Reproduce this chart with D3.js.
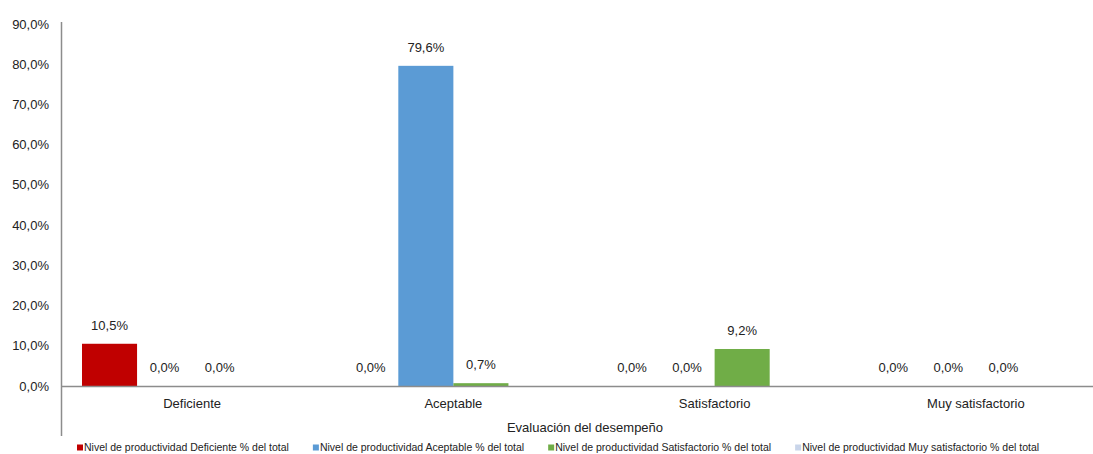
<!DOCTYPE html>
<html>
<head>
<meta charset="utf-8">
<script src="https://cdn.jsdelivr.net/npm/d3@7"></script>
<style>
  html, body { margin: 0; padding: 0; background: #fff; }
  svg { display: block; font-family: "Liberation Sans", Arial, sans-serif; }
</style>
</head>
<body>
<svg id="chart" width="1093" height="454"></svg>
<script>
const categories = ["Deficiente", "Aceptable", "Satisfactorio", "Muy satisfactorio"];
const seriesNames = [
  "Nivel de productividad Deficiente % del total",
  "Nivel de productividad Aceptable % del total",
  "Nivel de productividad Satisfactorio % del total",
  "Nivel de productividad Muy satisfactorio % del total"
];
const seriesColors = ["#C00000", "#5B9BD5", "#70AD47", "#C9D5EA"];
// values per series, one per category (null = no bar / no label)
const deficienteValues = [10.5, 0.0, 0.0, 0.0];
const aceptableValues = [0.0, 79.6, 0.0, 0.0];
const satisfactorioValues = [0.0, 0.7, 9.2, 0.0];
const muySatisfactorioValues = [null, null, null, null];
const yTicks = [0, 10, 20, 30, 40, 50, 60, 70, 80, 90];
const xAxisTitle = "Evaluación del desempeño";

const seriesValues = [deficienteValues, aceptableValues, satisfactorioValues, muySatisfactorioValues];

const svg = d3.select("#chart");
const locale = d3.formatLocale({ decimal: ",", thousands: ".", grouping: [3], currency: ["", "€"] });
const fmt = locale.format(".1f");

const y = d3.scaleLinear().domain([0, 90]).range([386, 24]);
const x0 = d3.scaleBand().domain(categories).range([61.5, 1106.5]).padding(0);
const bw = x0.bandwidth();
const x1 = d3.scaleBand().domain(d3.range(seriesNames.length)).range([20.5, bw - 20.5]).padding(0);

const axisColor = "#8c8c8c";

// Y tick labels
svg.append("g").selectAll("text").data(yTicks).join("text")
  .attr("x", 49).attr("y", d => y(d)).attr("dy", "0.35em")
  .attr("text-anchor", "end").attr("font-size", 13).attr("fill", "#222")
  .text(d => fmt(d) + "%");

// bars
const data = [];
categories.forEach((c, ci) => {
  seriesValues.forEach((vals, si) => {
    data.push({ cat: c, si, v: vals[ci] });
  });
});
const valid = data.filter(d => d.v !== null);

svg.append("g").selectAll("rect").data(valid.filter(d => d.v > 0)).join("rect")
  .attr("x", d => x0(d.cat) + x1(d.si))
  .attr("width", x1.bandwidth())
  .attr("y", d => y(d.v))
  .attr("height", d => y(0) - y(d.v))
  .attr("fill", d => seriesColors[d.si]);

// data labels
svg.append("g").selectAll("text").data(valid).join("text")
  .attr("x", d => x0(d.cat) + x1(d.si) + x1.bandwidth() / 2)
  .attr("y", d => y(d.v) - 14)
  .attr("text-anchor", "middle").attr("font-size", 13).attr("fill", "#222")
  .text(d => fmt(d.v) + "%");

// axes lines
svg.append("line").attr("x1", 61.5).attr("x2", 61.5).attr("y1", 22).attr("y2", 436)
  .attr("stroke", axisColor).attr("stroke-width", 1.5);
svg.append("line").attr("x1", 61.5).attr("x2", 1093).attr("y1", y(0) + 0.5).attr("y2", y(0) + 0.5)
  .attr("stroke", axisColor).attr("stroke-width", 1.5);

// category labels
svg.append("g").selectAll("text").data(categories).join("text")
  .attr("x", d => x0(d) + bw / 2).attr("y", 407.5)
  .attr("text-anchor", "middle").attr("font-size", 13).attr("fill", "#222")
  .text(d => d);

// axis title
svg.append("text").attr("x", 585).attr("y", 431.5).attr("text-anchor", "middle")
  .attr("font-size", 13).attr("fill", "#222").text(xAxisTitle);

// legend
const lg = svg.append("g");
let lx = 77;
seriesNames.forEach((name, i) => {
  const g = lg.append("g").attr("transform", `translate(${lx},0)`);
  g.append("rect").attr("x", 0).attr("y", 444.5).attr("width", 6).attr("height", 6).attr("fill", seriesColors[i]);
  const t = g.append("text").attr("x", 7).attr("y", 451).attr("font-size", 10.5).attr("fill", "#222").text(name);
  lx += 7 + t.node().getComputedTextLength() + 24;
});
</script>
</body>
</html>
